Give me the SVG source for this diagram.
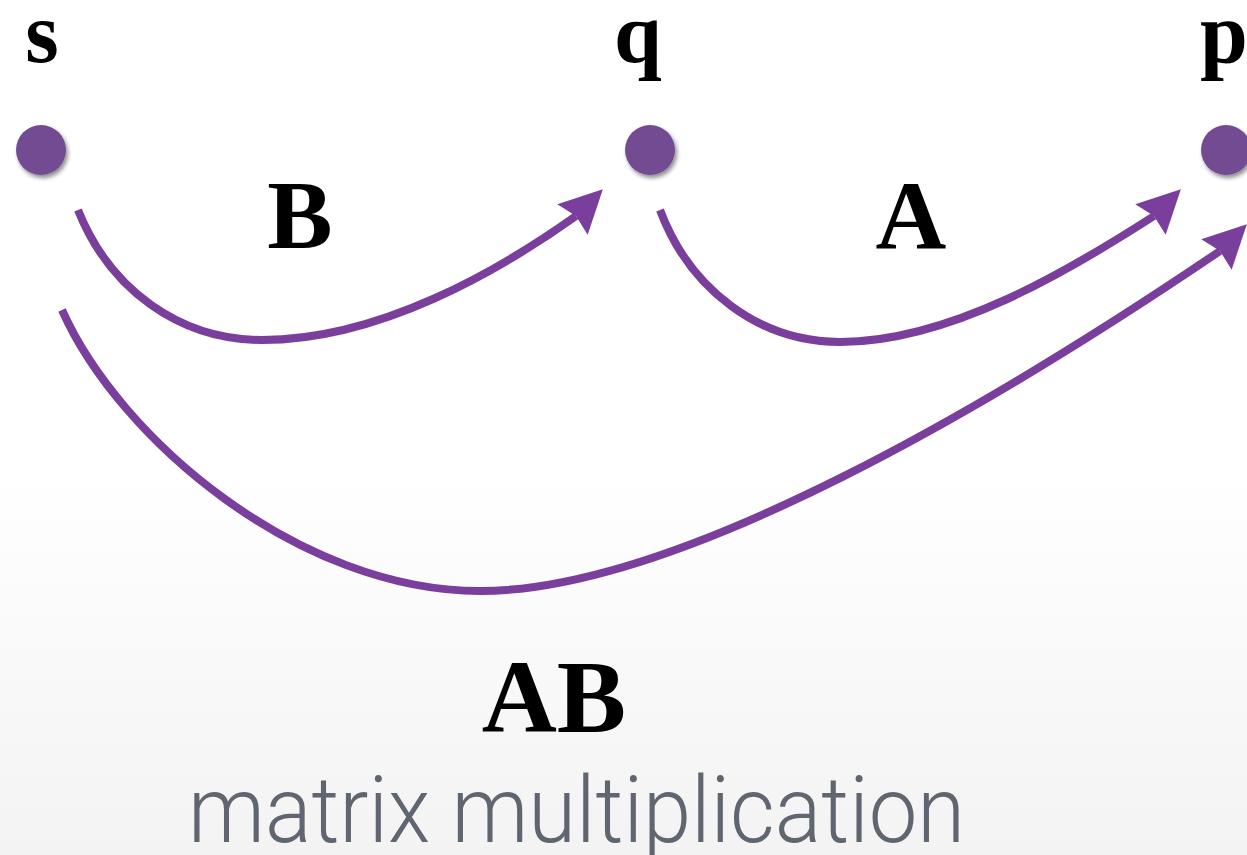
<svg xmlns="http://www.w3.org/2000/svg" width="1247" height="855" viewBox="0 0 1247 855">
<style>
.lbl{font-family:"Liberation Serif","Times New Roman",serif;font-weight:bold;fill:#000;text-anchor:middle}
.dot{fill:#724c93;filter:url(#sh)}
.edge{fill:none;stroke:#7a3e9c;stroke-width:8}
.cap{font-family:Roboto,"Liberation Sans",sans-serif;font-weight:300;fill:#5f6670}
</style>
<defs>
<filter id="sh" x="-50%" y="-50%" width="200%" height="200%">
<feDropShadow dx="2" dy="3" stdDeviation="2" flood-color="#000" flood-opacity="0.45"/>
</filter>
<marker id="ah" markerUnits="userSpaceOnUse" markerWidth="60" markerHeight="60" refX="5" refY="0" orient="-45" overflow="visible">
<path d="M43,0 L0,-21.5 L5,0 L0,21.5 Z" fill="#7a3e9c"/>
</marker>
<linearGradient id="bg" x1="0" y1="0" x2="0" y2="1">
<stop offset="0.55" stop-color="#ffffff"/>
<stop offset="1" stop-color="#f3f3f3"/>
</linearGradient>
</defs>
<rect width="1247" height="855" fill="url(#bg)"/>
<g id="connectors">
<path id="e-sq" class="edge" marker-end="url(#ah)" d="M78,210 C110,290 180,340 262,340 C380,340 500,270 576,216"/>
<path id="e-qp" class="edge" marker-end="url(#ah)" d="M660,210 C690,290 760,342 840,342 C950,342 1070,270 1154,216"/>
<path id="e-sp" class="edge" marker-end="url(#ah)" d="M62,310 C120,440 300,591 480,591 C680,591 1000,400 1220,251"/>
</g>
<g id="node-s"><text class="lbl" x="42" y="62" font-size="86">s</text><circle class="dot" cx="41" cy="150" r="25"/></g>
<g id="node-q"><text class="lbl" x="638" y="62" font-size="86">q</text><circle class="dot" cx="650" cy="150" r="25"/></g>
<g id="node-p"><text class="lbl" x="1224" y="62" font-size="86">p</text><circle class="dot" cx="1226" cy="150" r="25"/></g>
<g id="labels">
<text class="lbl" x="300" y="248" font-size="98">B</text>
<text class="lbl" x="911" y="248" font-size="98">A</text>
<text class="lbl" x="554" y="732" font-size="104">AB</text>
<text class="cap" x="188" y="842" font-size="92" textLength="777" lengthAdjust="spacingAndGlyphs">matrix multiplication</text>
</g>
</svg>
